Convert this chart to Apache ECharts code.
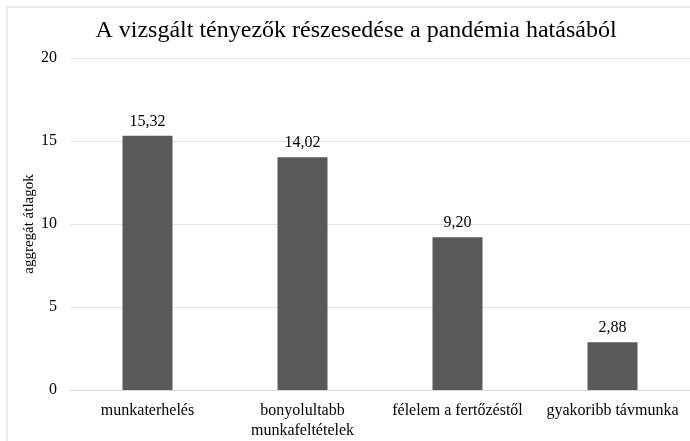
<!DOCTYPE html>
<html>
<head>
<meta charset="utf-8">
<script src="https://cdn.jsdelivr.net/npm/echarts@6/dist/echarts.min.js"></script>
<style>
  html, body { margin: 0; padding: 0; background: #fff; }
  #chart { width: 690px; height: 441px; }
</style>
</head>
<body>
<div id="chart"></div>
<script>
const categories = ['munkaterhelés', 'bonyolultabb\nmunkafeltételek', 'félelem a fertőzéstől', 'gyakoribb távmunka']
const values = [15.32, 14.02, 9.20, 2.88]
const yTicks = [0, 5, 10, 15, 20]

const serif = '"Liberation Serif", "DejaVu Serif", serif'
const chart = echarts.init(document.getElementById('chart'))

chart.setOption({
  animation: false,
  backgroundColor: '#fff',
  title: {
    text: 'A vizsgált tényezők részesedése a pandémia hatásából',
    left: 351,
    textAlign: 'center',
    top: 14,
    textStyle: { fontFamily: serif, fontSize: 24, fontWeight: 'normal', color: '#000' }
  },
  grid: { left: 70, right: 0, top: 58, bottom: 48 },
  xAxis: {
    type: 'category',
    data: categories,
    axisTick: { show: false },
    axisLine: { lineStyle: { color: '#d9d9d9' } },
    axisLabel: {
      interval: 0,
      margin: 11,
      fontFamily: serif,
      fontSize: 16,
      color: '#000',
      lineHeight: 20
    }
  },
  yAxis: {
    type: 'value',
    min: yTicks[0],
    max: yTicks[yTicks.length - 1],
    interval: 5,
    name: 'aggregát átlagok',
    nameLocation: 'middle',
    nameGap: 33,
    nameRotate: 90,
    nameMoveOverlap: false,
    nameTextStyle: { fontFamily: serif, fontSize: 15, color: '#000' },
    axisLine: { show: false },
    axisTick: { show: false },
    axisLabel: { margin: 13, fontFamily: serif, fontSize: 16, color: '#000' },
    splitLine: { lineStyle: { color: '#e3e3e3', width: 1 } }
  },
  series: [{
    type: 'bar',
    data: values,
    barWidth: 50,
    itemStyle: { color: '#595959' },
    label: {
      show: true,
      position: 'top',
      distance: 6,
      fontFamily: serif,
      fontSize: 16,
      color: '#000',
      formatter: p => p.value.toFixed(2).replace('.', ',')
    }
  }],
  graphic: [
    { type: 'line', shape: { x1: 7, y1: 7, x2: 690, y2: 7 }, style: { stroke: '#d9d9d9', lineWidth: 1 } },
    { type: 'line', shape: { x1: 7, y1: 7, x2: 7, y2: 441 }, style: { stroke: '#d9d9d9', lineWidth: 1 } }
  ]
})

window.addEventListener('resize', () => chart.resize())
</script>
</body>
</html>
